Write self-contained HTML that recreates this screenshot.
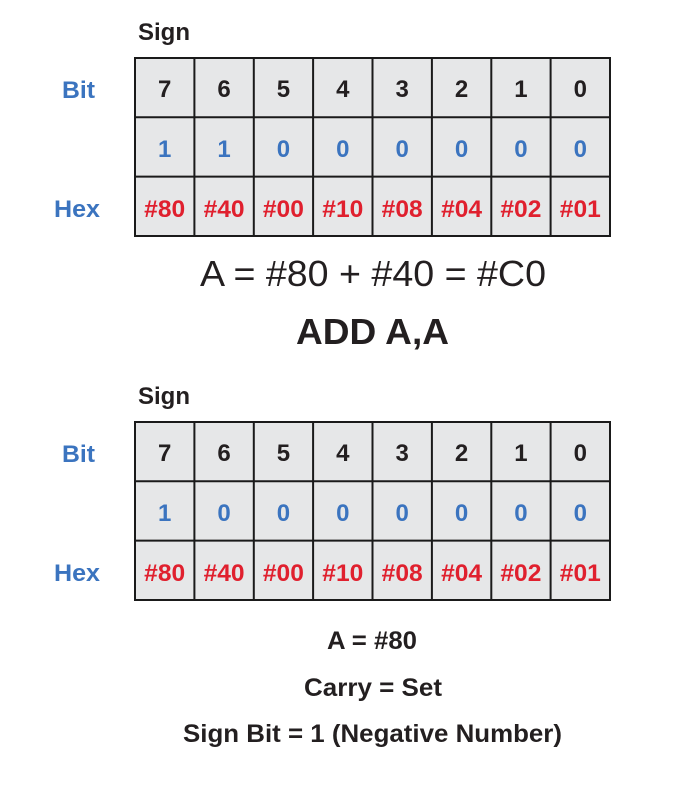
<!DOCTYPE html>
<html><head><style>
html,body{margin:0;padding:0;background:#fff;}
svg{display:block;}
text{font-family:"Liberation Sans",Arial,sans-serif;font-weight:bold;}
</style></head><body>
<svg width="696" height="796" viewBox="0 0 696 796">
<defs>
<g id="tbl">
<rect x="135" y="0" width="475" height="178" fill="#e6e7e8" stroke="#1a1a1a" stroke-width="2"/>
<g stroke="#1a1a1a" stroke-width="2">
<line x1="135" y1="59.3" x2="610" y2="59.3"/><line x1="135" y1="118.6" x2="610" y2="118.6"/>
<line x1="194.4" y1="0" x2="194.4" y2="178"/><line x1="253.8" y1="0" x2="253.8" y2="178"/>
<line x1="313.1" y1="0" x2="313.1" y2="178"/><line x1="372.5" y1="0" x2="372.5" y2="178"/>
<line x1="431.9" y1="0" x2="431.9" y2="178"/><line x1="491.3" y1="0" x2="491.3" y2="178"/>
<line x1="550.6" y1="0" x2="550.6" y2="178"/>
</g>
<g font-size="24" fill="#231f20" text-anchor="middle">
<text x="164.7" y="39">7</text><text x="224.1" y="39">6</text><text x="283.4" y="39">5</text><text x="342.8" y="39">4</text>
<text x="402.2" y="39">3</text><text x="461.6" y="39">2</text><text x="520.9" y="39">1</text><text x="580.3" y="39">0</text>
</g>
<g font-size="24" fill="#e0202e" text-anchor="middle">
<text x="164.7" y="159" textLength="41" lengthAdjust="spacingAndGlyphs">#80</text><text x="224.1" y="159" textLength="41" lengthAdjust="spacingAndGlyphs">#40</text><text x="283.4" y="159" textLength="41" lengthAdjust="spacingAndGlyphs">#00</text><text x="342.8" y="159" textLength="41" lengthAdjust="spacingAndGlyphs">#10</text>
<text x="402.2" y="159" textLength="41" lengthAdjust="spacingAndGlyphs">#08</text><text x="461.6" y="159" textLength="41" lengthAdjust="spacingAndGlyphs">#04</text><text x="520.9" y="159" textLength="41" lengthAdjust="spacingAndGlyphs">#02</text><text x="580.3" y="159" textLength="41" lengthAdjust="spacingAndGlyphs">#01</text>
</g>
<text x="62" y="40" font-size="24" fill="#3b74bf" textLength="33" lengthAdjust="spacingAndGlyphs">Bit</text>
<text x="54" y="159" font-size="24" fill="#3b74bf" textLength="46" lengthAdjust="spacingAndGlyphs">Hex</text>
<text x="138" y="-18" font-size="24" fill="#231f20" textLength="52" lengthAdjust="spacingAndGlyphs">Sign</text>
</g>
</defs>
<use href="#tbl" transform="translate(0,58)"/>
<g font-size="24" fill="#3b74bf" text-anchor="middle" transform="translate(0,58)">
<text x="164.7" y="99">1</text><text x="224.1" y="99">1</text><text x="283.4" y="99">0</text><text x="342.8" y="99">0</text>
<text x="402.2" y="99">0</text><text x="461.6" y="99">0</text><text x="520.9" y="99">0</text><text x="580.3" y="99">0</text>
</g>
<text x="200" y="286" font-size="36" fill="#231f20" style="font-weight:normal" textLength="346" lengthAdjust="spacingAndGlyphs">A = #80 + #40 = #C0</text>
<text x="296" y="344" font-size="36" fill="#231f20" textLength="153" lengthAdjust="spacingAndGlyphs">ADD A,A</text>
<use href="#tbl" transform="translate(0,422)"/>
<g font-size="24" fill="#3b74bf" text-anchor="middle" transform="translate(0,422)">
<text x="164.7" y="99">1</text><text x="224.1" y="99">0</text><text x="283.4" y="99">0</text><text x="342.8" y="99">0</text>
<text x="402.2" y="99">0</text><text x="461.6" y="99">0</text><text x="520.9" y="99">0</text><text x="580.3" y="99">0</text>
</g>
<g font-size="25" fill="#231f20">
<text x="327" y="649" textLength="90" lengthAdjust="spacingAndGlyphs">A = #80</text>
<text x="304" y="696" textLength="138" lengthAdjust="spacingAndGlyphs">Carry = Set</text>
<text x="183" y="742" textLength="379" lengthAdjust="spacingAndGlyphs">Sign Bit = 1 (Negative Number)</text>
</g>
</svg>
</body></html>
